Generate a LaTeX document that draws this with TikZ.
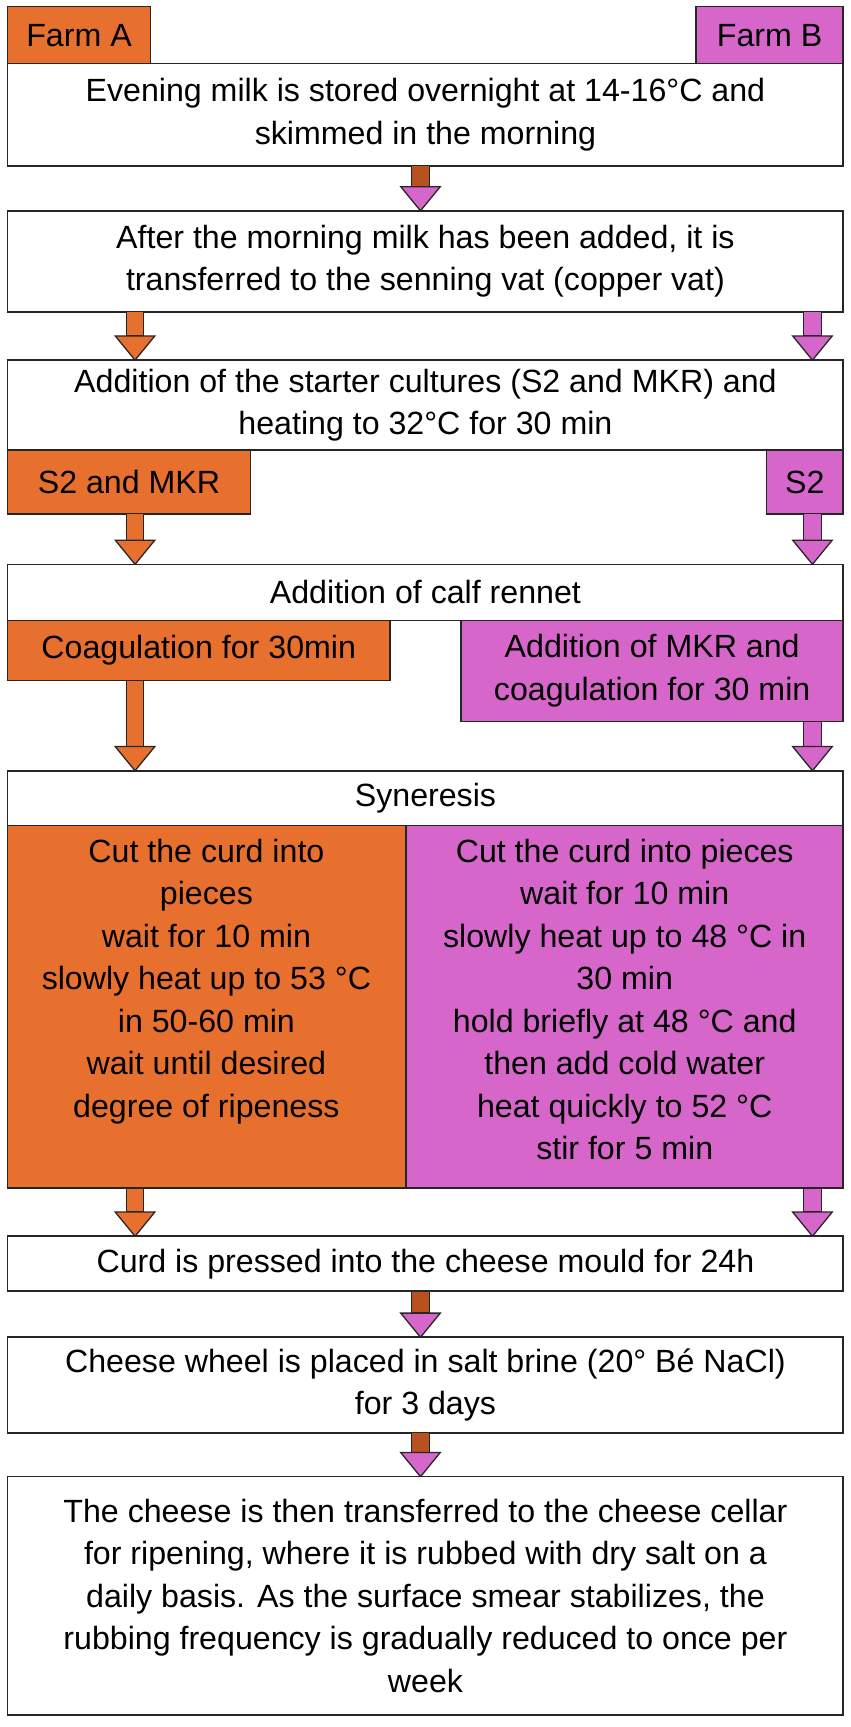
\documentclass[tikz,border=0pt]{standalone}
\usepackage{fontspec}
\setmainfont{Liberation Sans}
\definecolor{orA}{HTML}{E8702F}
\definecolor{pkB}{HTML}{D766CB}
\definecolor{brn}{HTML}{B9501F}
\tikzset{
 cell/.style={draw=black!85, line width=1.2pt, inner sep=0pt, outer sep=0pt, align=center, font=\fontsize{25}{33}\selectfont},
 wbox/.style={cell, fill=white},
 obox/.style={cell, fill=orA},
 pbox/.style={cell, fill=pkB},
 txt/.style={inner sep=0pt, align=center, font=\fontsize{25}{33}\selectfont}
}
\newcommand\mybox[7]{%
 \pgfmathsetmacro\bw{(#4-#2)*0.03}\pgfmathsetmacro\bh{(#5-#3)*0.03}%
 \node[#6, minimum width=\bw cm, minimum height=\bh cm] (#1) at ({(#2+#4)/2},{(#3+#5)/2}) {#7};}
\newcommand\arr[5]{% x, y1, y2, shaft colour, head colour
 \filldraw[fill=#4, draw=black!85, line width=1pt] (#1-8,#2) -- (#1+8,#2) -- (#1+8,#3-22) -- (#1-8,#3-22) -- cycle;
 \filldraw[fill=#5, draw=black!85, line width=1pt] (#1-18,#3-22) -- (#1+18,#3-22) -- (#1,#3) -- cycle;}
\begin{document}
\begin{tikzpicture}[x=0.03cm,y=-0.03cm]
\useasboundingbox (0,0) rectangle (775,1573);
\mybox{fa}{7}{6}{137}{58}{obox}{Farm A}
\mybox{fb}{634}{6}{768}{58}{pbox}{Farm B}
\mybox{b1}{7}{58}{768}{151}{wbox}{Evening milk is stored overnight at 14-16°C and\\skimmed in the morning}
\arr{383}{151}{192}{brn}{pkB}
\mybox{b2}{7}{192}{768}{284}{wbox}{After the morning milk has been added, it is\\transferred to the senning vat (copper vat)}
\arr{123}{284}{328}{orA}{orA}
\arr{740}{284}{328}{pkB}{pkB}
\mybox{b3}{7}{328}{768}{410}{wbox}{Addition of the starter cultures (S2 and MKR) and\\heating to 32°C for 30 min}
\mybox{s2a}{7}{410}{228}{468}{obox}{S2 and MKR}
\mybox{s2b}{698}{410}{768}{468}{pbox}{S2}
\arr{123}{468}{514}{orA}{orA}
\arr{740}{468}{514}{pkB}{pkB}
\mybox{b4}{7}{514}{768}{565}{wbox}{Addition of calf rennet}
\mybox{ca}{7}{565}{355}{620}{obox}{Coagulation for 30min}
\mybox{cb}{420}{565}{768}{657}{pbox}{Addition of MKR and\\coagulation for 30 min}
\arr{123}{620}{702}{orA}{orA}
\arr{740}{657}{702}{pkB}{pkB}
\mybox{b5}{7}{702}{768}{752}{wbox}{Syneresis}
\mybox{sa}{7}{752}{370}{1082}{obox}{}
\mybox{sb}{370}{752}{768}{1082}{pbox}{}
\node[txt, anchor=north] (ta) at (188,764) {Cut the curd into\\pieces\\wait for 10 min\\slowly heat up to 53 °C\\in 50-60 min\\wait until desired\\degree of ripeness};
\node[txt, anchor=north] (tb) at (569,764) {Cut the curd into pieces\\wait for 10 min\\slowly heat up to 48 °C in\\30 min\\hold briefly at 48 °C and\\then add cold water\\heat quickly to 52 °C\\stir for 5 min};
\arr{123}{1082}{1126}{orA}{orA}
\arr{740}{1082}{1126}{pkB}{pkB}
\mybox{b6}{7}{1126}{768}{1176}{wbox}{Curd is pressed into the cheese mould for 24h}
\arr{383}{1176}{1218}{brn}{pkB}
\mybox{b7}{7}{1218}{768}{1305}{wbox}{Cheese wheel is placed in salt brine (20° Bé NaCl)\\for 3 days}
\arr{383}{1305}{1345}{brn}{pkB}
\mybox{b8}{7}{1345}{768}{1562}{wbox}{The cheese is then transferred to the cheese cellar\\for ripening, where it is rubbed with dry salt on a\\daily basis. As the surface smear stabilizes, the\\rubbing frequency is gradually reduced to once per\\week}
\end{tikzpicture}
\end{document}
